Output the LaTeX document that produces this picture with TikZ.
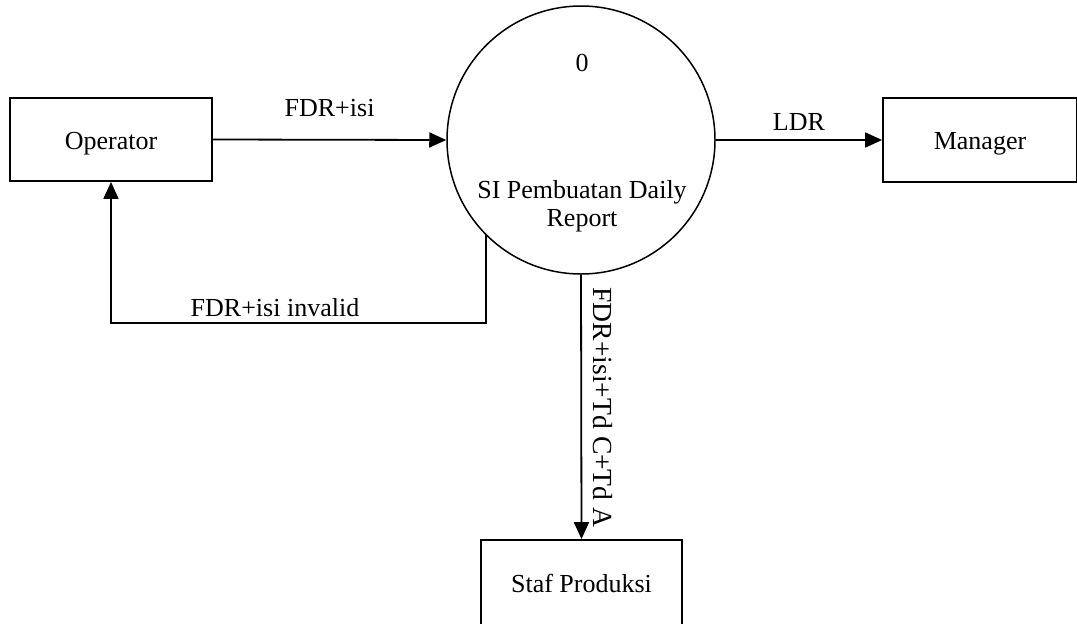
\documentclass[tikz,border=0pt]{standalone}
\usepackage{fontspec}
\setmainfont{Liberation Serif}
\usetikzlibrary{arrows.meta}
\begin{document}
\begin{tikzpicture}[x=1pt,y=-1pt,
  every node/.style={font=\fontsize{26}{28}\selectfont},
  entity/.style={draw,line width=1.8pt,inner sep=0pt,text height=19.5pt,text depth=0pt},
  proc/.style={draw,circle,line width=1.5pt,inner sep=0pt,minimum size=268pt},
  flow/.style={line width=1.8pt,-{Triangle[length=17pt,width=15pt]}},
  lbl/.style={inner sep=0pt}]
\useasboundingbox (0,0) rectangle (1077,624);
\clip (0,0) rectangle (1077,624);
\node[entity,minimum width=202pt,minimum height=83pt] (op) at (111,139.5) {Operator};
\node[entity,minimum width=194pt,minimum height=84pt] (mg) at (980,140) {Manager};
\node[entity,minimum width=201pt,minimum height=86pt] (st) at (581.5,583) {Staf Produksi};
\node[proc] (circ) at (581,140) {};
\node[lbl] (n0) at (582,63) {0};
\node[lbl,align=center] (nm) at (582,206) {SI Pembuatan Daily\\Report};
\coordinate (c1) at (111,323);
\draw[flow] (op.east) -- (circ.west) node[lbl,midway,above=22pt] (l1) {FDR+isi};
\draw[flow] (circ.east) -- (mg.west) node[lbl,midway,above=9pt] (l2) {LDR};
\draw[flow] (circ.225) |- (c1) -- (op.south);
\node[lbl] (l3) at (275,308) {FDR+isi invalid};
\draw[flow] (circ.south) -- (st.north);
\node[lbl,rotate=-90,font=\fontsize{27.6}{29}\selectfont] (l4) at (603,407.5) {FDR+isi+Td C+Td A};
\end{tikzpicture}
\end{document}
